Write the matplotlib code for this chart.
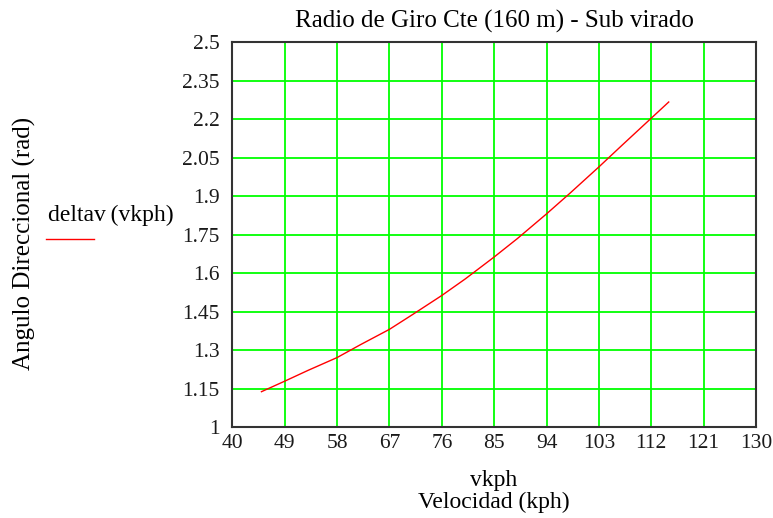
import matplotlib.pyplot as plt
import numpy as np

# values
vkph = [45, 49, 53, 58, 62, 67, 71, 76, 80, 85, 89, 94, 98, 103, 107, 112, 115]
deltav = [1.139, 1.180, 1.222, 1.272, 1.322, 1.382, 1.440, 1.514, 1.578, 1.664,
          1.736, 1.832, 1.912, 2.015, 2.100, 2.205, 2.268]

xticks = [40, 49, 58, 67, 76, 85, 94, 103, 112, 121, 130]
yticks = [1, 1.15, 1.3, 1.45, 1.6, 1.75, 1.9, 2.05, 2.2, 2.35, 2.5]

plt.rcParams['font.family'] = ['Liberation Serif', 'DejaVu Serif']

fig = plt.figure(figsize=(7.73, 5.18), dpi=100)
ax = fig.add_axes([0.3006, 0.175, 0.6774, 0.743])

ax.plot(vkph, deltav, color='#ff0000', lw=1.0)

ax.set_xlim(40, 130)
ax.set_ylim(1, 2.5)
ax.set_xticks(xticks)
ax.set_yticks(yticks)
ax.set_xticklabels([str(t) for t in xticks])
ax.set_yticklabels(['1', '1.15', '1.3', '1.45', '1.6', '1.75', '1.9', '2.05', '2.2', '2.35', '2.5'])
ax.tick_params(length=0, labelsize=15.5, colors='#1a1a1a')
ax.tick_params(axis='y', pad=9)
ax.tick_params(axis='x', pad=5)
ax.grid(True, color='#00ff00', lw=1.3)
ax.set_axisbelow(True)
for s in ax.spines.values():
    s.set_color('#333333')
    s.set_linewidth(1.5)

fig.text(0.639, 0.958, "Radio de Giro Cte (160 m) - Sub virado", fontsize=18,
         ha='center', va='center')

fig.text(0.639, 0.052, "vkph\nVelocidad (kph)", ha='center', va='center',
         fontsize=17, linespacing=1.05)
fig.text(0.032, 0.531, "Angulo Direccional (rad)", rotation=90, ha='center',
         va='center', fontsize=18)

# legend (Mathcad style)
fig.text(0.062, 0.585, "deltav\u2009(vkph)", fontsize=17, ha='left', va='center')
fig.add_artist(plt.Line2D([0.059, 0.121], [0.538, 0.538], color='#ff0000', lw=1.0))

fig.savefig("out.png", dpi=100)
